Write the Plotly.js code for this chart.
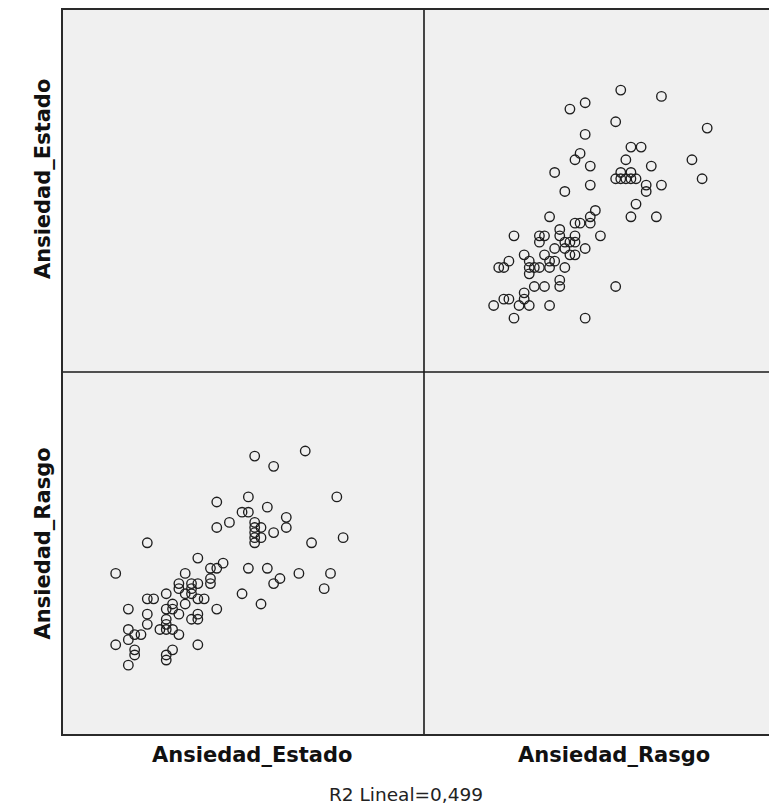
<!DOCTYPE html>
<html>
<head>
<meta charset="utf-8">
<script src="https://cdn.plot.ly/plotly-3.0.1.min.js"></script>
<style>
  html, body { margin: 0; padding: 0; background: #ffffff; overflow: hidden; }
  #chart { width: 800px; height: 805px; }
</style>
</head>
<body>
<div id="chart"></div>
<script>
// Scatterplot matrix: Ansiedad_Estado vs Ansiedad_Rasgo (one case per index)
const varNames = ["Ansiedad_Estado", "Ansiedad_Rasgo"];

const estado = [
  50, 42, 45, 55, 36, 41, 44, 40, 41, 38,
  36, 42, 47, 47, 43, 45, 42, 42, 43, 42,
  56, 51, 25, 33, 37, 36, 35, 35, 35, 31,
  41, 44, 20, 49, 54, 46, 45, 53, 40, 43,
  30, 30, 32, 32, 32, 33, 28, 25, 26, 31,
  31, 33, 34, 29, 29, 28, 36, 22, 25, 30,
  33, 32, 33, 28, 28, 28, 25, 22, 27, 29,
  30, 23, 24, 22, 20, 33, 23, 23, 29, 28,
  28, 22, 42
];

const rasgo = [
  62, 61, 59, 53, 52, 53, 51, 50, 50, 48,
  47, 48, 49, 47, 47, 46, 46, 45, 45, 44,
  45, 44, 44, 41, 40, 39, 39, 37, 36, 38,
  39, 39, 38, 38, 38, 37, 36, 35, 34, 32,
  36, 35, 36, 35, 34, 36, 34, 33, 33, 34,
  32, 33, 33, 32, 31, 31, 31, 31, 30, 30,
  30, 29, 29, 29, 28, 27, 28, 27, 27, 27,
  26, 26, 26, 25, 24, 24, 23, 22, 23, 22,
  21, 20, 47
];

const fitNote = "R2 Lineal=0,499";

// Fixed value ranges shared by each variable across the matrix cells
const estadoRange = [11.5, 68.8];
const rasgoRange = [6.3, 77.5];

const markerStyle = {
  symbol: "circle-open",
  size: 9.5,
  color: "#1e1e1e",
  line: { width: 1.35, color: "#1e1e1e" }
};

const traces = [
  { // lower-left cell: x = Estado, y = Rasgo
    type: "scatter", mode: "markers",
    x: estado, y: rasgo,
    xaxis: "x", yaxis: "y",
    marker: markerStyle, hoverinfo: "skip", showlegend: false
  },
  { // upper-right cell: x = Rasgo, y = Estado
    type: "scatter", mode: "markers",
    x: rasgo, y: estado,
    xaxis: "x2", yaxis: "y2",
    marker: markerStyle, hoverinfo: "skip", showlegend: false
  }
];

const bareAxis = {
  showgrid: false, zeroline: false, showline: false,
  showticklabels: false, ticks: "", fixedrange: true
};

const lineColor = "#1a1a1a";
const labelFont = { family: "DejaVu Sans", size: 21, color: "#111111", weight: "bold" };

const layout = {
  width: 800,
  height: 805,
  margin: { l: 62, r: 14, t: 9, b: 70, pad: 0 },
  paper_bgcolor: "#ffffff",
  plot_bgcolor: "rgba(0,0,0,0)",
  showlegend: false,
  xaxis:  Object.assign({}, bareAxis, { domain: [0, 0.5], range: estadoRange, anchor: "y" }),
  yaxis:  Object.assign({}, bareAxis, { domain: [0, 0.5], range: rasgoRange, anchor: "x" }),
  xaxis2: Object.assign({}, bareAxis, { domain: [0.5, 1], range: rasgoRange, anchor: "y2" }),
  yaxis2: Object.assign({}, bareAxis, { domain: [0.5, 1], range: estadoRange, anchor: "x2" }),
  shapes: [
    { type: "rect", xref: "paper", yref: "paper", x0: 0, x1: 1, y0: 0, y1: 1,
      fillcolor: "#f0f0f0", line: { width: 0 }, layer: "below" },
    { type: "line", xref: "paper", yref: "paper", x0: 0.5, x1: 0.5, y0: 0, y1: 1,
      line: { color: lineColor, width: 1.6 } },
    { type: "line", xref: "paper", yref: "paper", x0: 0, x1: 1, y0: 0.5, y1: 0.5,
      line: { color: lineColor, width: 1.6 } },
    { type: "rect", xref: "paper", yref: "paper", x0: 0, x1: 1, y0: 0, y1: 1,
      line: { color: "#2a2a2a", width: 2 } }
  ],
  annotations: [
    { text: varNames[0], xref: "paper", yref: "paper", x: 0.2624, y: -0.0276,
      xanchor: "center", yanchor: "middle", showarrow: false, font: labelFont },
    { text: varNames[1], xref: "paper", yref: "paper", x: 0.7624, y: -0.0276,
      xanchor: "center", yanchor: "middle", showarrow: false, font: labelFont },
    { text: varNames[0], xref: "paper", yref: "paper", x: -0.0262, y: 0.7658,
      xanchor: "center", yanchor: "middle", textangle: -90, showarrow: false, font: labelFont },
    { text: varNames[1], xref: "paper", yref: "paper", x: -0.0262, y: 0.2638,
      xanchor: "center", yanchor: "middle", textangle: -90, showarrow: false, font: labelFont },
    { text: fitNote, xref: "paper", yref: "paper", x: 0.4751, y: -0.0813,
      xanchor: "center", yanchor: "middle", showarrow: false,
      font: { family: "DejaVu Sans", size: 18.5, color: "#222222" } }
  ]
};

Plotly.newPlot("chart", traces, layout, { staticPlot: true, displayModeBar: false });
</script>
</body>
</html>
